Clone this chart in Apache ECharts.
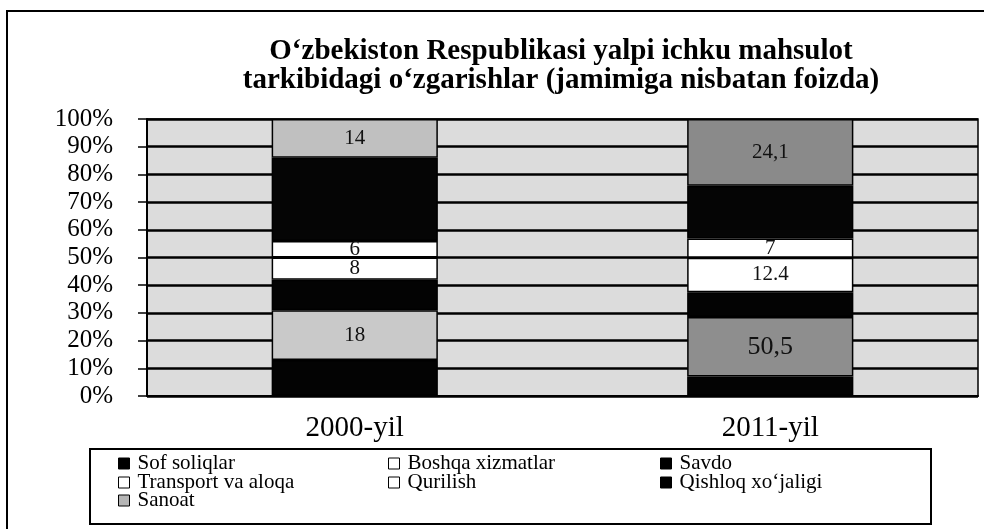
<!DOCTYPE html>
<html>
<head>
<meta charset="utf-8">
<script src="https://cdn.jsdelivr.net/npm/echarts@6/dist/echarts.min.js"></script>
<style>
  html, body { margin: 0; padding: 0; background: #fff; }
  #chart { width: 984px; height: 529px; }
</style>
</head>
<body>
<div id="chart"></div>
<script>
// Years on the category axis
const years = ['2000-yil', '2011-yil'];

// Sectors, stacked from the bottom of each column upward
const sectors = [
  'Sof soliqlar',
  'Boshqa xizmatlar',
  'Savdo',
  'Transport va aloqa',
  'Qurilish',
  'Qishloq xo‘jaligi',
  'Sanoat'
];

// Share of GDP, percent (2000, 2011)
const sofSoliqlar      = [13, 7];
const boshqaXizmatlar  = [18, 21.5];
const savdo            = [11, 9];
const transport        = [8, 12.4];
const qurilish         = [6, 7];
const qishloqXojaligi  = [30, 19];
const sanoat           = [14, 24.1];

// Value labels printed inside the segments ('' = no label)
const labelsSofSoliqlar     = ['', ''];
const labelsBoshqaXizmatlar = ['18', '50,5'];
const labelsSavdo           = ['', ''];
const labelsTransport       = ['8', '12.4'];
const labelsQurilish        = ['6', '7'];
const labelsQishloq         = ['', ''];
const labelsSanoat          = ['14', '24,1'];

// Y axis tick labels
const yTicks = ['0%', '10%', '20%', '30%', '40%', '50%', '60%', '70%', '80%', '90%', '100%'];

const values = [sofSoliqlar, boshqaXizmatlar, savdo, transport, qurilish, qishloqXojaligi, sanoat];
const labels = [labelsSofSoliqlar, labelsBoshqaXizmatlar, labelsSavdo, labelsTransport, labelsQurilish, labelsQishloq, labelsSanoat];

// Fill of each segment per year, and the swatch used in the legend
const segmentFill = [
  ['#030303', '#030303'],
  ['#c9c9c9', '#8e8e8e'],
  ['#030303', '#030303'],
  ['#ffffff', '#ffffff'],
  ['#ffffff', '#ffffff'],
  ['#050505', '#050505'],
  ['#c0c0c0', '#8a8a8a']
];
const legendFill = ['#000', '#fff', '#000', '#fff', '#fff', '#000', '#b5b5b5'];
const labelSize = [[21, 21], [21, 26], [21, 21], [21, 21], [21, 21], [21, 21], [21, 21]];

const serif = '"Liberation Serif", "DejaVu Serif", serif';

const series = sectors.map((name, s) => ({
  name: name,
  type: 'bar',
  stack: 'total',
  barWidth: '40%',
  itemStyle: { color: legendFill[s], borderColor: '#000', borderWidth: 1.5 },
  data: values[s].map((v, i) => ({
    value: v,
    itemStyle: { color: segmentFill[s][i], borderColor: '#000', borderWidth: 1.5 },
    label: {
      show: labels[s][i] !== '',
      position: 'inside',
      formatter: () => labels[s][i],
      color: '#111',
      fontFamily: serif,
      fontSize: labelSize[s][i]
    }
  }))
}));

// Legend laid out as a three-column table
const legendCols = [118, 388, 660];
const legendRows = [462, 481, 499];
const legends = sectors.map((name, k) => ({
  data: [name],
  left: legendCols[k % 3],
  top: legendRows[Math.floor(k / 3)] - 9,
  padding: 0,
  itemWidth: 11,
  itemHeight: 11,
  itemGap: 0,
  icon: 'rect',
  selectedMode: false,
  itemStyle: { borderColor: '#000', borderWidth: 1 },
  textStyle: { fontFamily: serif, fontSize: 21, color: '#000', padding: [0, 0, 0, 3], lineHeight: 18 }
}));

const chart = echarts.init(document.getElementById('chart'), null, { renderer: 'canvas' });
chart.setOption({
  animation: false,
  backgroundColor: '#fff',
  title: {
    text: 'O‘zbekiston Respublikasi yalpi ichku mahsulot\ntarkibidagi o‘zgarishlar (jamimiga nisbatan foizda)',
    left: 556,
    textAlign: 'center',
    top: 32,
    textStyle: { fontFamily: serif, fontWeight: 'bold', fontSize: 29, lineHeight: 29, color: '#000' }
  },
  grid: {
    left: 147, right: 6, top: 119, bottom: 133,
    show: true,
    backgroundColor: '#dcdcdc',
    borderColor: '#000',
    borderWidth: 1.5
  },
  xAxis: {
    type: 'category',
    data: years,
    axisLine: { lineStyle: { color: '#000', width: 2 } },
    axisTick: { show: false },
    axisLabel: { fontFamily: serif, fontSize: 29, color: '#000', margin: 18 }
  },
  yAxis: {
    type: 'value',
    min: 0,
    max: 100,
    interval: 10,
    axisLine: { show: true, lineStyle: { color: '#000', width: 2 } },
    axisTick: { show: true, length: 9, lineStyle: { color: '#000', width: 1.5 } },
    splitLine: { lineStyle: { color: '#000', width: 2.5 } },
    axisLabel: {
      fontFamily: serif, fontSize: 25, color: '#000', margin: 34,
      formatter: (v) => yTicks[Math.round(v / 10)]
    }
  },
  legend: legends,
  series: series,
  graphic: [
    // outer frame (right and bottom edges run past the page)
    { type: 'rect', shape: { x: 7, y: 11, width: 1000, height: 600 }, style: { fill: 'none', stroke: '#000', lineWidth: 2 }, silent: true, z: -1 },
    // legend box
    { type: 'rect', shape: { x: 90, y: 449, width: 841, height: 75 }, style: { fill: 'none', stroke: '#000', lineWidth: 2 }, silent: true }
  ]
});
</script>
</body>
</html>
